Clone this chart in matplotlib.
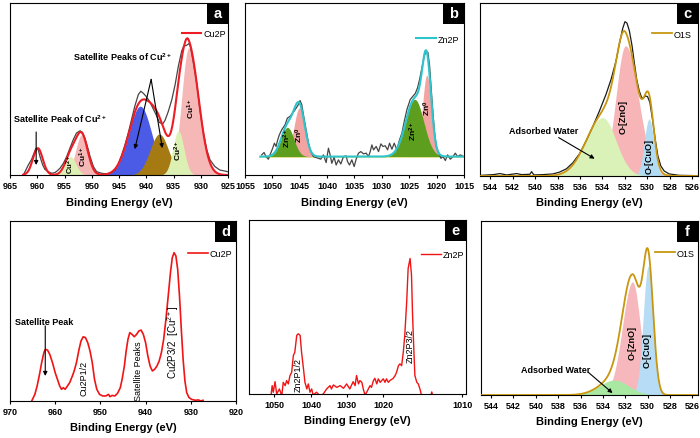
import numpy as np
import matplotlib.pyplot as plt
from matplotlib.patches import Rectangle

plt.rcParams['font.family'] = ['Liberation Sans', 'DejaVu Sans']
plt.rcParams['mathtext.fontset'] = 'custom'
plt.rcParams['mathtext.rm'] = 'Liberation Sans'
plt.rcParams['mathtext.bf'] = 'Liberation Sans:bold'
plt.rcParams['mathtext.default'] = 'regular'

# ---------------- data ----------------
# (a) Cu 2p fitted: satellite, Cu2+, Cu1+, sat. blue, sat. brown, Cu2+, Cu1+
a_ticks = [965, 960, 955, 950, 945, 940, 935, 930, 925]
a_center = [959.9, 953.9, 951.85, 941.1, 937.6, 934.1, 932.2]
a_height = [0.156, 0.107, 0.234, 0.40, 0.238, 0.257, 0.74]
a_w_hi = [0.9, 1.0, 1.1, 2.1, 1.7, 1.0, 1.3]
a_w_lo = [0.9, 1.0, 1.1, 2.1, 1.7, 1.0, 1.8]
a_raw_x = [962.55, 961.64, 961.02, 960.72, 960.23, 959.8, 959.5, 959.0, 958.6, 957.97,
           957.35, 956.74, 956.3, 955.83, 955.2, 954.6, 954.0, 953.4, 952.8, 952.15,
           951.7, 951.25, 950.8, 950.3, 949.7, 949.1, 948.2, 947.3, 946.35, 945.7,
           945.1, 944.5, 943.9, 943.3, 942.7, 942.1, 941.45, 941.0, 940.5, 940.05,
           939.4, 938.8, 938.2, 937.6, 937.0, 936.55, 935.95, 935.3, 934.7, 934.1,
           933.5, 933.1, 932.6, 932.15, 931.85, 931.35, 930.75, 930.15, 929.5, 928.9,
           928.3, 927.4, 926.5, 925.0]
a_raw_y = [0.0, 0.058, 0.092, 0.117, 0.156, 0.146, 0.107, 0.058, 0.033, 0.019,
           0.010, 0.014, 0.025, 0.039, 0.068, 0.107, 0.156, 0.205, 0.244, 0.257,
           0.248, 0.214, 0.166, 0.107, 0.049, 0.019, 0.010, 0.006, 0.014, 0.029,
           0.068, 0.117, 0.175, 0.244, 0.322, 0.400, 0.468, 0.487, 0.474, 0.458,
           0.429, 0.390, 0.351, 0.306, 0.296, 0.318, 0.370, 0.439, 0.526, 0.634,
           0.721, 0.750, 0.754, 0.764, 0.741, 0.653, 0.536, 0.380, 0.244, 0.146,
           0.088, 0.049, 0.029, 0.019]

# (b) Zn 2p fitted: Zn2+, Zn0 (2p1/2), Zn2+, Zn0 (2p3/2), on a flat background
b_ticks = [1055, 1050, 1045, 1040, 1035, 1030, 1025, 1020, 1015]
b_base = 0.107
b_center = [1047.25, 1045.06, 1024.0, 1021.8]
b_height = [0.17, 0.283, 0.333, 0.473]
b_width = [1.17, 1.0, 1.65, 0.8]
b_raw_x = [1051.95, 1051.52, 1051.16, 1050.73, 1050.43, 1049.94, 1049.63, 1049.33, 1049.02, 1048.72,
           1048.29, 1047.68, 1047.26, 1046.77, 1046.28, 1045.85, 1045.37, 1044.94, 1044.63, 1044.33,
           1043.84, 1043.41, 1042.99, 1042.5, 1041.59, 1041.16, 1040.67, 1040.18, 1039.76, 1039.45,
           1039.15, 1038.72, 1038.35, 1037.93, 1037.5, 1037.01, 1036.52, 1036.28, 1035.91, 1035.49,
           1035.06, 1034.7, 1034.27, 1033.84, 1033.35, 1032.87, 1032.44, 1032.13, 1031.83, 1031.52,
           1031.04, 1030.61, 1030.18, 1029.82, 1029.39, 1028.96, 1028.6, 1028.17, 1027.74, 1027.26,
           1026.77, 1026.34, 1025.91, 1025.43, 1024.82, 1024.33, 1023.9, 1023.48, 1023.11, 1022.68,
           1022.26, 1021.89, 1021.59, 1021.28, 1020.98, 1020.67, 1020.37, 1020.06, 1019.63, 1019.21,
           1018.84, 1018.41, 1017.99, 1017.5, 1017.01, 1016.59, 1016.16, 1015.67, 1015.06]
b_raw_y = [0.117, 0.131, 0.107, 0.092, 0.117, 0.156, 0.185, 0.166, 0.205, 0.234,
           0.263, 0.292, 0.331, 0.341, 0.361, 0.380, 0.403, 0.433, 0.409, 0.351,
           0.263, 0.185, 0.136, 0.107, 0.097, 0.092, 0.117, 0.072, 0.156, 0.117,
           0.068, 0.103, 0.058, 0.088, 0.064, 0.107, 0.111, 0.078, 0.058, 0.088,
           0.049, 0.092, 0.127, 0.136, 0.123, 0.127, 0.107, 0.136, 0.175, 0.146,
           0.166, 0.136, 0.181, 0.166, 0.170, 0.146, 0.185, 0.150, 0.185, 0.146,
           0.205, 0.244, 0.312, 0.380, 0.439, 0.458, 0.474, 0.507, 0.556, 0.624,
           0.692, 0.721, 0.712, 0.634, 0.497, 0.361, 0.244, 0.166, 0.127, 0.097,
           0.107, 0.084, 0.117, 0.092, 0.107, 0.127, 0.107, 0.117, 0.107]

# (c) O 1s fitted: adsorbed water, O-[ZnO], O-[CuO]
o_ticks = [544, 542, 540, 538, 536, 534, 532, 530, 528, 526]
c_center = [534.0, 531.95, 529.85]
c_height = [0.338, 0.753, 0.33]
c_w_hi = [1.45, 0.85, 0.42]
c_w_lo = [1.2, 1.15, 0.42]
c_raw_x = [544.74, 543.7, 543.12, 542.53, 541.64, 541.2, 540.46, 540.31, 540.1, 539.28,
           538.4, 537.8, 537.2, 536.63, 536.04, 535.45, 534.86, 534.27, 533.68, 533.23,
           532.79, 532.5, 532.2, 532.0, 531.82, 531.61, 531.37, 531.17, 530.96, 530.73,
           530.52, 530.37, 530.2, 529.99, 529.78, 529.55, 529.31, 529.07, 528.81, 528.51,
           528.07, 527.19, 525.56]
c_raw_y = [0.004, 0.008, 0.014, 0.006, 0.014, 0.008, 0.010, 0.025, 0.006, 0.008,
           0.012, 0.023, 0.042, 0.077, 0.129, 0.203, 0.286, 0.376, 0.473, 0.560,
           0.666, 0.763, 0.853, 0.892, 0.884, 0.840, 0.753, 0.656, 0.560, 0.492,
           0.454, 0.448, 0.463, 0.459, 0.425, 0.328, 0.212, 0.116, 0.058, 0.029,
           0.012, 0.004, 0.002]

# (d) Cu 2p raw spectrum
d_ticks = [970, 960, 950, 940, 930, 920]
d_x = [965.2, 964.5, 964.0, 963.4, 963.0, 962.5, 962.2, 961.7, 961.2, 960.6,
       960.0, 959.5, 959.0, 958.6, 958.2, 957.8, 957.3, 956.8, 956.2, 955.8,
       955.3, 954.8, 954.3, 953.8, 953.3, 952.8, 952.3, 951.8, 951.3, 950.8,
       950.2, 949.5, 948.8, 948.2, 947.9, 947.4, 946.8, 946.2, 945.6, 945.2,
       944.7, 944.3, 943.9, 943.5, 943.0, 942.5, 942.0, 941.5, 941.0, 940.5,
       940.0, 939.5, 939.0, 938.5, 938.0, 937.5, 937.0, 936.5, 936.0, 935.5,
       935.0, 934.5, 934.1, 933.7, 933.3, 932.9, 932.5, 932.1, 931.7, 931.3,
       930.9, 930.4, 929.8, 929.0, 928.3, 927.8, 927.3]
d_y = [0.0, 0.037, 0.083, 0.157, 0.213, 0.269, 0.287, 0.283, 0.259, 0.213,
       0.157, 0.120, 0.083, 0.065, 0.074, 0.065, 0.083, 0.102, 0.139, 0.167,
       0.213, 0.278, 0.333, 0.357, 0.352, 0.324, 0.278, 0.213, 0.120, 0.065,
       0.037, 0.028, 0.028, 0.037, 0.024, 0.031, 0.028, 0.043, 0.074, 0.120,
       0.194, 0.278, 0.343, 0.380, 0.370, 0.357, 0.370, 0.389, 0.394, 0.370,
       0.324, 0.250, 0.194, 0.167, 0.176, 0.194, 0.222, 0.269, 0.343, 0.454,
       0.583, 0.713, 0.796, 0.824, 0.806, 0.731, 0.583, 0.398, 0.231, 0.111,
       0.046, 0.019, 0.009, 0.004, 0.006, 0.0, 0.004]

# (e) Zn 2p raw spectrum (tick labels sit where the original put them)
e_tick_pos = [1049.8, 1042.1, 1034.7, 1027.2, 1010.8]
e_tick_lab = ['1050', '1040', '1030', '1020', '1010']
e_x = [1050.4, 1050.2, 1049.96, 1049.6, 1049.26, 1048.7, 1048.2, 1047.9, 1047.5, 1047.2,
       1046.85, 1046.5, 1046.15, 1045.8, 1045.5, 1045.1, 1044.8, 1044.4, 1044.1, 1043.7,
       1043.4, 1043.0, 1042.7, 1042.35, 1042.0, 1041.7, 1041.0, 1040.3, 1039.6, 1038.9,
       1038.2, 1037.9, 1037.5, 1036.8, 1036.1, 1035.4, 1034.75, 1034.1, 1033.4, 1033.0,
       1032.7, 1032.3, 1032.0, 1031.6, 1031.3, 1030.95, 1030.6, 1029.9, 1029.6, 1029.2,
       1028.9, 1028.5, 1028.2, 1027.8, 1027.5, 1027.15, 1026.8, 1026.5, 1026.1, 1025.8,
       1025.1, 1024.7, 1024.4, 1024.0, 1023.7, 1023.35, 1023.0, 1022.7, 1022.3, 1022.0,
       1021.6, 1021.3, 1021.1, 1020.8, 1020.6, 1020.2, 1019.9, 1019.55, 1019.2,
       1018.5, 1017.3, 1017.1, 1016.9]
e_y = [0.0, 0.048, 0.010, 0.071, 0.0, 0.029, -0.01, 0.067, 0.048, 0.077,
       0.058, 0.106, 0.125, 0.221, 0.240, 0.337, 0.346, 0.337, 0.240, 0.144,
       0.067, 0.029, 0.058, 0.010, 0.029, -0.006, 0.010, -0.01, 0.0, 0.029,
       0.048, 0.029, 0.052, 0.038, 0.048, 0.033, 0.058, 0.029, 0.071, 0.048,
       0.106, 0.058, 0.077, 0.067, 0.029, -0.006, 0.010, 0.048, 0.038, 0.077,
       0.090, 0.058, 0.087, 0.067, 0.077, 0.087, 0.067, 0.087, 0.067, 0.077,
       0.090, 0.106, 0.125, 0.163, 0.173, 0.163, 0.240, 0.337, 0.529, 0.721,
       0.779, 0.683, 0.471, 0.240, 0.106, 0.067, 0.058, 0.029, -0.01,
       -0.02, -0.01, 0.012, -0.01]

# (f) O 1s fitted: adsorbed water, O-[ZnO], O-[CuO]
f_center = [533.0, 531.35, 529.95]
f_height = [0.086, 0.65, 0.74]
f_w_hi = [1.3, 0.9, 0.45]
f_w_lo = [1.3, 0.7, 0.45]


def peak(x, c, h, w_hi, w_lo):
    w = np.where(x > c, w_hi, w_lo)
    return h * np.exp(-0.5 * ((x - c) / w) ** 2)


def box(x0, y0, x1, y1):
    return [x0 / 700, 1 - y1 / 439, (x1 - x0) / 700, (y1 - y0) / 439]


def frame(ax, xlim, ticks, labels=None):
    ax.set_xlim(*xlim)
    ax.set_ylim(0, 1)
    ax.set_xticks(ticks)
    if labels is not None:
        ax.set_xticklabels(labels)
    ax.set_yticks([])
    ax.tick_params(axis='x', direction='out', length=2.5, width=0.8, pad=1.5, labelsize=6.5)
    for lab in ax.get_xticklabels():
        lab.set_fontweight('bold')
    for s in ax.spines.values():
        s.set_linewidth(0.8)
    ax.set_xlabel('Binding Energy (eV)', fontsize=8, fontweight='bold', labelpad=5)


def tag(ax, letter):
    pos = ax.get_position()
    bw = 21 / (pos.width * 700)
    bh = 21 / (pos.height * 439)
    ax.add_patch(Rectangle((1 - bw, 1 - bh), bw, bh, transform=ax.transAxes,
                           facecolor='black', edgecolor='none', zorder=6, clip_on=False))
    ax.text(1 - bw / 2, 1 - bh / 2, letter, transform=ax.transAxes, color='white',
            fontsize=10.5, fontweight='bold', ha='center', va='center', zorder=7)


def legend(ax, x, y):
    ax.legend(loc='center right', bbox_to_anchor=(x, y), frameon=False, fontsize=6.5,
              handlelength=2.2, handletextpad=0.2, borderaxespad=0, borderpad=0)


def arrow(ax, tail, head):
    ax.annotate('', xy=head, xytext=tail,
                arrowprops=dict(arrowstyle='-|>', lw=0.8, color='black',
                                mutation_scale=6, shrinkA=0, shrinkB=0))


def vlabel(ax, x, y, s, size=6, weight='bold'):
    ax.text(x, y, s, rotation=90, ha='center', va='center', fontsize=size,
            fontweight=weight, zorder=5)


fig = plt.figure(figsize=(7, 4.39), dpi=100)

# ---------------- (a) ----------------
ax = fig.add_axes(box(10, 4, 228, 176))
xa = np.linspace(962.6, 925, 800)
comps = [peak(xa, c, h, wh, wl) for c, h, wh, wl in zip(a_center, a_height, a_w_hi, a_w_lo)]
a_colors = [None, '#DCF0B4', '#F6B7B7', '#4B5BE6', '#A57A12', '#DCF0B4', '#F6B7B7']
for i in [2, 1, 3, 4, 6, 5]:
    ax.fill_between(xa, 0, comps[i], color=a_colors[i], lw=0, zorder=1)
ax.plot(a_raw_x, a_raw_y, color='#454545', lw=0.9, zorder=2)
ax.plot(xa, sum(comps), color='#EE1C25', lw=1.5, zorder=3, label='Cu2P')
frame(ax, (965, 925), a_ticks)
legend(ax, 0.99, 0.82)
tag(ax, 'a')
ax.text(964.45, 0.33, r'Satellite Peak of Cu$^{\mathbf{2+}}$', fontsize=6.5, fontweight='bold',
        ha='left', va='center')
arrow(ax, (960.2, 0.25), (960.2, 0.058))
ax.text(944.4, 0.69, r'Satellite Peaks of Cu$^{\mathbf{2+}}$', fontsize=6.5, fontweight='bold',
        ha='center', va='center')
arrow(ax, (939.1, 0.556), (942.1, 0.15))
arrow(ax, (939.1, 0.556), (937.05, 0.156))
vlabel(ax, 953.9, 0.065, r'Cu$^{\mathbf{2+}}$', size=5.5)
vlabel(ax, 951.55, 0.11, r'Cu$^{\mathbf{1+}}$')
vlabel(ax, 934.1, 0.15, r'Cu$^{\mathbf{2+}}$')
vlabel(ax, 931.8, 0.39, r'Cu$^{\mathbf{1+}}$')

# ---------------- (b) ----------------
ax = fig.add_axes(box(245, 4, 464, 176))
xb = np.linspace(1052.2, 1015, 800)
comps = [peak(xb, c, h, w, w) for c, h, w in zip(b_center, b_height, b_width)]
b_colors = ['#5E9E1E', '#F4A3A3', '#5E9E1E', '#F4A3A3']
ax.plot(xb, np.full_like(xb, b_base), color='#E6EE8A', lw=1.2, zorder=1)
for i in [1, 0, 3, 2]:
    ax.fill_between(xb, b_base, b_base + comps[i], color=b_colors[i], lw=0, zorder=1)
ax.plot(b_raw_x, b_raw_y, color='#454545', lw=0.9, zorder=2)
ax.plot(xb, b_base + sum(comps), color='#2EC4CC', lw=1.5, zorder=3, label='Zn2P')
frame(ax, (1055, 1015), b_ticks)
legend(ax, 0.977, 0.79)
tag(ax, 'b')
vlabel(ax, 1047.26, 0.22, r'Zn$^{\mathbf{2+}}$')
vlabel(ax, 1045.1, 0.234, r'Zn$^{\mathbf{0}}$')
vlabel(ax, 1024.2, 0.263, r'Zn$^{\mathbf{2+}}$')
vlabel(ax, 1021.65, 0.396, r'Zn$^{\mathbf{0}}$')

# ---------------- (c) ----------------
ax = fig.add_axes(box(480, 4, 698, 177))
xc = np.linspace(544.9, 525.5, 800)
comps = [peak(xc, c, h, wh, wl) for c, h, wh, wl in zip(c_center, c_height, c_w_hi, c_w_lo)]
c_colors = ['#DAF1B8', '#F7B5B8', '#B2DCF3']
for i in [1, 2, 0]:
    ax.fill_between(xc, 0, comps[i], color=c_colors[i], lw=0, zorder=1)
ax.plot(c_raw_x, c_raw_y, color='#1A1A1A', lw=0.9, zorder=2)
ax.plot(xc, sum(comps), color='#C8960F', lw=1.3, zorder=3, label='O1S')
frame(ax, (544.9, 525.5), o_ticks)
legend(ax, 0.972, 0.82)
tag(ax, 'c')
ax.text(539.28, 0.264, 'Adsorbed Water', fontsize=6.5, fontweight='bold', ha='center', va='center')
arrow(ax, (537.9, 0.222), (534.7, 0.10))
vlabel(ax, 532.14, 0.344, 'O-[ZnO]', size=6.5)
vlabel(ax, 529.84, 0.116, 'O-[CuO]', size=6.5)

# ---------------- (d) ----------------
ax = fig.add_axes(box(10, 222, 236, 402))
ax.plot(d_x, d_y, color='#F01414', lw=1.2, label='Cu2P')
frame(ax, (970, 920), d_ticks)
legend(ax, 0.982, 0.82)
tag(ax, 'd')
ax.text(968.9, 0.439, 'Satellite Peak', fontsize=6.5, fontweight='bold', ha='left', va='center')
arrow(ax, (962.2, 0.417), (962.2, 0.139))
vlabel(ax, 953.7, 0.131, 'Cu2P1/2', size=6.5, weight='normal')
vlabel(ax, 941.5, 0.172, 'Satellite Peaks', size=6.5, weight='normal')
vlabel(ax, 933.85, 0.33, r'Cu2P3/2  [Cu$^{2+}$]', size=7, weight='normal')

# ---------------- (e) ----------------
ax = fig.add_axes(box(249, 221, 466, 395))
ax.plot(e_x, e_y, color='#F01414', lw=1.0, label='Zn2P')
frame(ax, (1055, 1010), e_tick_pos, e_tick_lab)
legend(ax, 0.99, 0.80)
tag(ax, 'e')
vlabel(ax, 1044.8, 0.115, 'Zn2P1/2', size=6.5, weight='normal')
vlabel(ax, 1021.6, 0.283, 'Zn2P3/2', size=6.5, weight='normal')

# ---------------- (f) ----------------
ax = fig.add_axes(box(481, 222, 698, 396))
xf = np.linspace(544.9, 525.5, 800)
comps = [peak(xf, c, h, wh, wl) for c, h, wh, wl in zip(f_center, f_height, f_w_hi, f_w_lo)]
f_colors = ['#A8E8A2', '#F6B8BC', '#B6DDF5']
for i in [1, 2, 0]:
    ax.fill_between(xf, 0, comps[i], color=f_colors[i], lw=0, zorder=1)
ax.plot(xf, sum(comps), color='#C8960F', lw=1.3, zorder=3, label='O1S')
frame(ax, (544.9, 525.5), o_ticks)
legend(ax, 0.986, 0.816)
tag(ax, 'f')
ax.text(538.2, 0.145, 'Adsorbed Water', fontsize=6.5, fontweight='bold', ha='center', va='center')
arrow(ax, (535.3, 0.13), (533.14, 0.011))
vlabel(ax, 531.35, 0.302, 'O-[ZnO]', size=6.5)
vlabel(ax, 530.07, 0.26, 'O-[CuO]', size=6.5)

fig.savefig('out.png', dpi=100)
